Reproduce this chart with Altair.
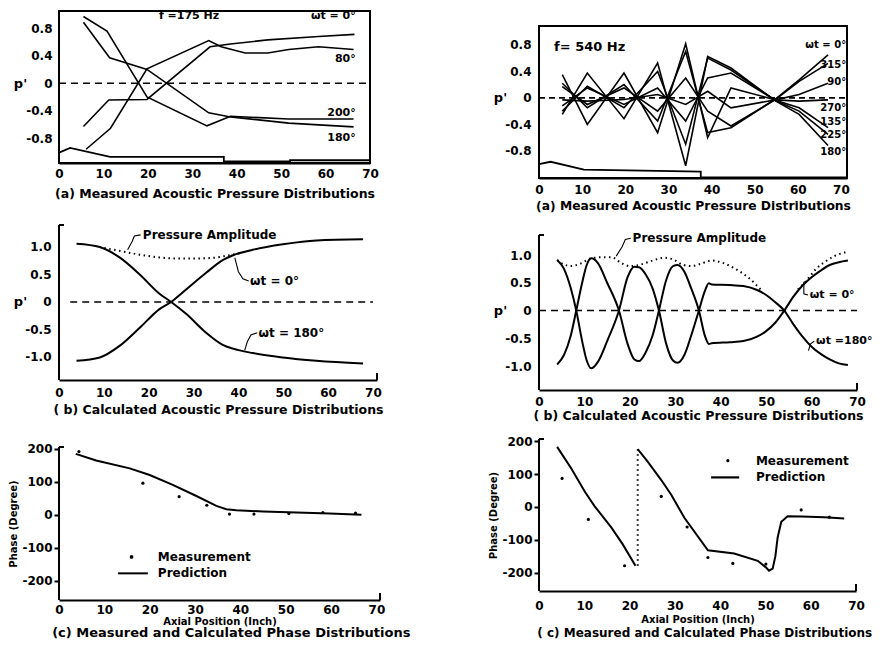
import altair as alt
import pandas as pd

FONT = "DejaVu Sans"
INK = "black"

# ---------------- (a) left : f = 175 Hz, measured
LA_X_0 = [5.5, 11.2, 19.8, 34.0, 38.6, 47.0, 58.4, 66.5]
LA_Y_0 = [-0.63, -0.245, -0.236, 0.53, 0.57, 0.63, 0.68, 0.71]
LA_X_80 = [6.1, 11.6, 19.8, 33.7, 36.5, 41.9, 47.0, 51.7, 58.4, 66.3]
LA_Y_80 = [-0.96, -0.655, 0.21, 0.62, 0.53, 0.44, 0.44, 0.49, 0.53, 0.49]
LA_X_180 = [5.5, 11.4, 19.8, 33.7, 38.6, 51.7, 66.3]
LA_Y_180 = [0.887, 0.37, 0.2, -0.43, -0.49, -0.58, -0.635]
LA_X_200 = [5.5, 10.8, 19.8, 33.3, 38.6, 51.7, 66.3]
LA_Y_200 = [0.97, 0.757, -0.2, -0.62, -0.48, -0.52, -0.52]
LA_WALL_X = [0, 2.5, 11.5, 37.1, 37.1, 52.0, 52.0, 70.0]
LA_WALL_Y = [-1.01, -0.94, -1.07, -1.07, -1.135, -1.135, -1.12, -1.12]
LA_LABELS = ["ωt = 0°", "80°", "200°", "180°"]
LA_LABEL_X = [66.8, 66.8, 66.8, 66.8]
LA_LABEL_Y = [0.975, 0.35, -0.43, -0.8]

# ---------------- (a) right : f = 540 Hz, measured
RA_X = [5.4, 11.2, 19.7, 27.5, 34.0, 39.1, 44.5, 54.8, 60.3, 67.0]
RA_Y_0 = [0.22, -0.15, 0.2, -0.35, 0.7, -0.525, -0.45, -0.02, 0.27, 0.65]
RA_Y_315 = [0.17, -0.1, 0.15, -0.2, 0.3, -0.2, -0.425, -0.025, 0.25, 0.52]
RA_Y_90 = [-0.03, -0.05, -0.025, 0.05, -0.1, 0.1, -0.15, -0.03, 0.05, 0.22]
RA_Y_270 = [0.35, -0.4, 0.375, -0.525, 0.815, -0.6, 0.15, -0.03, -0.05, -0.03]
RA_Y_135 = [-0.12, 0.15, -0.1, 0.15, -0.35, 0.3, 0.375, -0.035, -0.15, -0.45]
RA_Y_225 = [-0.2, 0.175, -0.15, 0.4, -0.7, 0.6, 0.42, -0.04, -0.2, -0.55]
RA_Y_180 = [-0.25, 0.375, -0.315, 0.525, -1.025, 0.625, 0.45, -0.045, -0.25, -0.72]
RA_WALL_X = [0, 2.7, 10.4, 37.5, 37.5, 71.4]
RA_WALL_Y = [-1.0, -0.965, -1.085, -1.115, -1.2, -1.2]
RA_LABELS = ["ωt = 0°", "315°", "90°", "270°", "135°", "225°", "180°"]
RA_LABEL_X = [71.2] * 7
RA_LABEL_Y = [0.8, 0.5, 0.24, -0.16, -0.36, -0.56, -0.81]

# ---------------- (b) left : calculated, 175 Hz
LB_X = [3.9, 9.1, 13.5, 18.0, 22.4, 25.0, 28.4, 32.8, 36.5, 38.8, 43.2, 49.9, 57.4, 67.8]
LB_Y_0 = [-1.07, -1.01, -0.8, -0.47, -0.13, 0.0, 0.23, 0.53, 0.76, 0.85, 0.95, 1.05, 1.12, 1.14]
LB_Y_180 = [1.06, 1.0, 0.81, 0.5, 0.15, 0.0, -0.22, -0.56, -0.78, -0.85, -0.93, -1.01, -1.07, -1.12]
LB_AMP_X = [9.0, 13.5, 18.0, 22.4, 26.0, 30.0, 34.0, 38.0, 40.5]
LB_AMP_Y = [1.0, 0.93, 0.86, 0.81, 0.79, 0.79, 0.8, 0.85, 0.89]

# ---------------- (b) right : calculated, 540 Hz
RB_X = [4.0, 5.5, 7.0, 8.2, 9.5, 10.5, 11.5, 13.0, 15.0, 17.6, 19.5, 21.0, 22.0, 23.5, 25.0,
        26.4, 28.0, 29.5, 30.5, 32.0, 33.5, 35.2, 36.5, 37.4, 38.0, 42.0, 45.0, 48.0, 50.0,
        52.0, 54.0, 56.0, 58.0, 60.0, 62.0, 64.0, 66.0, 68.0]
RB_Y_0 = [-0.97, -0.8, -0.45, 0.0, 0.5, 0.82, 0.94, 0.85, 0.5, 0.0, -0.6, -0.88, -0.91, -0.75,
          -0.45, 0.0, 0.55, 0.8, 0.82, 0.7, 0.4, 0.0, -0.45, -0.6, -0.59, -0.57, -0.55, -0.47,
          -0.37, -0.22, 0.0, 0.25, 0.45, 0.6, 0.72, 0.82, 0.87, 0.9]
RB_Y_180 = [0.91, 0.75, 0.4, 0.0, -0.55, -0.9, -1.04, -0.92, -0.55, 0.0, 0.6, 0.79, 0.78, 0.65,
            0.4, 0.0, -0.6, -0.9, -0.94, -0.8, -0.45, 0.0, 0.35, 0.49, 0.47, 0.46, 0.44, 0.37,
            0.28, 0.15, 0.0, -0.25, -0.47, -0.65, -0.78, -0.88, -0.95, -0.98]
RB_AMP1_X = [4.0, 5.5, 7.0, 9.0, 11.5, 14.0, 16.0, 18.0, 20.0, 22.0, 25.0, 27.5, 29.5, 31.5,
             33.5, 35.5, 38.0, 40.0, 43.0, 46.0, 49.0]
RB_AMP1_Y = [0.91, 0.83, 0.8, 0.84, 0.94, 0.96, 0.96, 0.86, 0.8, 0.82, 0.9, 0.95, 0.92, 0.83,
             0.8, 0.84, 0.9, 0.87, 0.76, 0.6, 0.36]
RB_AMP2_X = [57.0, 59.0, 61.0, 63.0, 65.0, 67.0, 68.0]
RB_AMP2_Y = [0.38, 0.55, 0.75, 0.88, 0.98, 1.04, 1.06]

# ---------------- (c) left : phase, 175 Hz
LC_MEAS_X = [4.4, 18.5, 26.5, 32.6, 37.6, 43.0, 50.7, 58.2, 65.4]
LC_MEAS_Y = [192, 96, 55, 29, 2, 2, 4, 7, 5]
LC_PRED_X = [3.7, 8.2, 15.6, 20.0, 25.1, 30.3, 34.7, 36.9, 39.1, 45.0, 52.4, 59.7, 66.7]
LC_PRED_Y = [185, 165, 141, 121, 91, 57, 27, 17, 14, 10, 7, 4, 0]

# ---------------- (c) right : phase, 540 Hz
RC_MEAS_X = [5.1, 10.9, 18.9, 27.0, 32.7, 37.3, 42.8, 50.1, 57.9, 64.1]
RC_MEAS_Y = [87, -38, -179, 32, -61, -154, -172, -174, -9, -31]
RC_PRED1_X = [4.0, 7.1, 10.1, 12.3, 16.0, 18.5, 21.3]
RC_PRED1_Y = [183, 118, 47, 2, -63, -114, -179]
RC_PRED2_X = [21.8, 24.0, 27.0, 29.2, 32.1, 37.3, 43.1, 48.3, 50.1, 50.8, 51.6, 52.2, 52.7,
              53.5, 54.9, 57.9, 63.0, 67.4]
RC_PRED2_Y = [176, 138, 82, 37, -33, -132, -142, -164, -184, -194, -188, -150, -93, -45, -28,
              -29, -31, -35]
RC_JUMP_X = 21.8

X_TICKS = [0, 10, 20, 30, 40, 50, 60, 70]

CAP_A = "(a) Measured Acoustic Pressure Distributions"
CAP_B = "( b) Calculated Acoustic Pressure Distributions"
CAP_C_L = "(c) Measured and Calculated Phase Distributions"
CAP_C_R = "( c) Measured and Calculated Phase Distributions"

fmt1 = "datum.value == 0 ? '0' : (datum.value < 0 ? '-' : '') + format(abs(datum.value), '.1f')"
fmt0 = "(datum.value < 0 ? '-' : '') + format(abs(datum.value), 'd')"


def long_df(names, xs_list, ys_list):
    rows = []
    for n, xs, ys in zip(names, xs_list, ys_list):
        for i, (a, b) in enumerate(zip(xs, ys)):
            rows.append({"s": n, "i": i, "x": a, "y": b})
    return pd.DataFrame(rows)


def pts(xs, ys, texts=None):
    d = {"x": xs, "y": ys}
    if texts is not None:
        d["t"] = texts
    return pd.DataFrame(d)


class Panel:
    """One sub-plot. `pad` px of empty room is kept above the drawn axes (y domain is
    extended) so the panels sit at the reference's vertical offsets."""

    def __init__(self, w, h, pad, xdom, ydom, yvals, ylab, ypad, xpad, xtitle, xtitle_size,
                 xtitle_pad, ytitle=None, p_title=False, yticks=False):
        self.w, self.h, self.pad = w, h, pad
        self.xdom, self.ydom = xdom, ydom
        span = ydom[1] - ydom[0]
        self.upp = span / h
        self.ytop = ydom[1] + pad * self.upp
        self.H = h + pad
        zero_px = pad + h * ydom[1] / span
        ykw = dict(values=yvals, labelExpr=ylab, labelPadding=ypad, labelFont=FONT,
                   labelFontSize=12, labelFontWeight="bold", labelColor=INK,
                   domain=False, grid=False)
        if yticks:
            ykw.update(ticks=True, tickSize=5, tickWidth=2, tickColor=INK)
        else:
            ykw.update(ticks=False, tickSize=0)
        if p_title:
            ykw.update(title="p'", titleAngle=0, titleAlign="center", titleBaseline="middle",
                       titleX=-39, titleY=zero_px, titleFont=FONT, titleFontSize=13,
                       titleFontWeight="bold", titleColor=INK)
        else:
            ykw.update(title=ytitle, titleFont=FONT, titleFontSize=10, titleFontWeight="bold",
                       titleColor=INK, titlePadding=3, titleY=pad + h / 2)
        xkw = dict(values=X_TICKS, format="d", labelPadding=xpad, labelFont=FONT,
                   labelFontSize=12, labelFontWeight="bold", labelColor=INK,
                   domainColor=INK, domainWidth=2, grid=False, ticks=False, tickSize=0,
                   labelFlush=False, title=xtitle, titleFont=FONT, titleFontSize=xtitle_size,
                   titleFontWeight="bold", titleColor=INK, titlePadding=xtitle_pad)
        self.X = alt.X("x:Q", scale=alt.Scale(domain=xdom, nice=False, zero=False),
                       axis=alt.Axis(**xkw))
        self.Y = alt.Y("y:Q", scale=alt.Scale(domain=[ydom[0], self.ytop], nice=False,
                                              zero=False), axis=alt.Axis(**ykw))

    def below(self, px):
        return self.ydom[0] - px * self.upp

    def line(self, df, width=1.6, dash=None, interp="linear"):
        kw = dict(color=INK, strokeWidth=width, interpolate=interp, clip=False)
        if dash:
            kw["strokeDash"] = dash
        m = alt.Chart(df).mark_line(**kw)
        if "s" in df.columns:
            return m.encode(x=self.X, y=self.Y, detail="s:N", order="i:Q")
        return m.encode(x=self.X, y=self.Y)

    def text(self, df, size=11, align="left"):
        return alt.Chart(df).mark_text(font=FONT, fontSize=size, fontWeight="bold", color=INK,
                                       align=align, baseline="middle").encode(
            x=self.X, y=self.Y, text="t:N")

    def dots(self, df, size=10):
        return alt.Chart(df).mark_point(filled=True, size=size, color=INK, opacity=1).encode(
            x=self.X, y=self.Y)

    def box(self):
        x0, x1 = self.xdom
        y0, y1 = self.ydom
        df = pd.DataFrame({"x": [x0], "x2": [x1], "y": [y0], "y2": [y1]})
        return alt.Chart(df).mark_rect(filled=False, stroke=INK, strokeWidth=2).encode(
            x=self.X, x2="x2:Q", y=self.Y, y2="y2:Q")

    def ell(self, x_end):
        """Left axis line with its little top tick, and the upward tick at the x end."""
        x0 = self.xdom[0]
        y0, y1 = self.ydom
        xu = (self.xdom[1] - self.xdom[0]) / self.w
        df = pd.DataFrame({"x": [x0, x0, x_end], "x2": [x0, x0 + 5 * xu, x_end],
                           "y": [y0, y1, y0], "y2": [y1, y1, y0 + 7 * self.upp]})
        return alt.Chart(df).mark_rule(color=INK, strokeWidth=2).encode(
            x=self.X, x2="x2:Q", y=self.Y, y2="y2:Q")

    def done(self, *layers):
        return alt.layer(*layers).properties(
            width=self.w, height=self.H,
            view=alt.ViewBackground(fill="white", stroke="white", strokeWidth=0, strokeOpacity=0))


# ================= left (a)
P = Panel(311, 152, 0, [0, 70], [-1.16, 1.05], [-0.8, -0.4, 0, 0.4, 0.8], fmt1, 7, 5,
          CAP_A, 12.5, 8, p_title=True)
la = P.done(
    P.box(),
    P.line(pts([0, 70], [0, 0]), 1.6, [7, 5]),
    P.line(long_df(["0", "80", "180", "200"], [LA_X_0, LA_X_80, LA_X_180, LA_X_200],
                   [LA_Y_0, LA_Y_80, LA_Y_180, LA_Y_200]), 1.6),
    P.line(pts(LA_WALL_X, LA_WALL_Y), 1.8),
    P.text(pts(LA_LABEL_X, LA_LABEL_Y, LA_LABELS), 11, "right"),
    P.text(pts([22.5], [0.975], ["f =175 Hz"]), 11),
)

# ================= left (b)
P = Panel(318, 155, 20, [0, 70.9], [-1.42, 1.40], [-1.0, -0.5, 0, 0.5, 1.0], fmt1, 8, 7,
          CAP_B, 12.5, 5, p_title=True)
lb = P.done(
    P.ell(70.9),
    P.line(pts([2.5, 70], [0, 0]), 1.6, [7, 5]),
    P.line(long_df(["0", "180"], [LB_X, LB_X], [LB_Y_0, LB_Y_180]), 2, interp="monotone"),
    P.line(pts(LB_AMP_X, LB_AMP_Y), 2, [1.5, 3.5], "monotone"),
    P.line(long_df(["a", "b", "c"],
                   [[18.2, 16.8, 16.3, 15.3], [42.3, 41.0, 40.0, 39.2], [44.2, 42.8, 42.0, 41.4]],
                   [[1.22, 1.2, 1.1, 0.95], [0.38, 0.42, 0.55, 0.8], [-0.56, -0.6, -0.72, -0.88]]),
           1.1),
    P.text(pts([18.7, 42.6, 44.5], [1.22, 0.38, -0.56],
               ["Pressure Amplitude", "ωt = 0°", "ωt = 180°"]), 12),
)

# ================= left (c)
P = Panel(321, 153, 26, [0, 70.8], [-259, 206], [-200, -100, 0, 100, 200], fmt0, 2, 4,
          "Axial Position (Inch)", 10, 1, ytitle="Phase (Degree)", yticks=True)
lc = P.done(
    P.ell(70.8),
    P.line(pts(LC_PRED_X, LC_PRED_Y), 2),
    P.dots(pts(LC_MEAS_X, LC_MEAS_Y)),
    P.dots(pts([16.0], [-128]), 14),
    P.line(pts([13.0, 19.6], [-178, -178]), 2),
    P.text(pts([21.8, 21.8], [-128, -178], ["Measurement", "Prediction"]), 12),
    P.text(pts([38.0], [P.below(33)], [CAP_C_L]), 13, "center"),
)

# ================= right (a)
P = Panel(308, 152, 15, [0, 71.4], [-1.21, 1.085], [-0.8, -0.4, 0, 0.4, 0.8], fmt1, 8, 6,
          CAP_A, 12.3, 4, p_title=True)
ra = P.done(
    P.box(),
    P.line(pts([0, 71.4], [0, 0]), 1.6, [6, 4]),
    P.line(long_df(["0", "315", "90", "270", "135", "225", "180"], [RA_X] * 7,
                   [RA_Y_0, RA_Y_315, RA_Y_90, RA_Y_270, RA_Y_135, RA_Y_225, RA_Y_180]), 1.6),
    P.line(pts(RA_WALL_X, RA_WALL_Y), 1.8),
    P.text(pts(RA_LABEL_X, RA_LABEL_Y, RA_LABELS), 10, "right"),
    P.text(pts([3.5], [0.77], ["f= 540 Hz"]), 13),
)

# ================= right (b)
P = Panel(318, 155, 18, [0, 70], [-1.43, 1.36], [-1.0, -0.5, 0, 0.5, 1.0], fmt1, 8, 6,
          CAP_B, 12.5, 2, p_title=True)
rb = P.done(
    P.ell(70),
    P.line(pts([0, 70], [0, 0]), 1.6, [7, 5]),
    P.line(long_df(["0", "180"], [RB_X, RB_X], [RB_Y_0, RB_Y_180]), 2, interp="monotone"),
    P.line(long_df(["p", "q"], [RB_AMP1_X, RB_AMP2_X], [RB_AMP1_Y, RB_AMP2_Y]), 2,
           [1.5, 3.5], "monotone"),
    P.line(long_df(["a", "b", "c"],
                   [[20.2, 19.0, 18.3, 17.0], [58.3, 58.3, 59.2], [60.6, 59.8, 59.3]],
                   [[1.3, 1.28, 1.15, 0.98], [0.52, 0.3, 0.28], [-0.55, -0.6, -0.72]]), 1.1),
    P.text(pts([20.6], [1.3], ["Pressure  Amplitude"]), 12),
    P.text(pts([59.6, 61.0], [0.28, -0.55], ["ωt = 0°", "ωt =180°"]), 11),
)

# ================= right (c)
P = Panel(317, 152, 12, [0, 70], [-256, 207], [-200, -100, 0, 100, 200], fmt0, 2, 9,
          "Axial Position (Inch)", 10, 3, ytitle="Phase (Degree)", yticks=True)
rc = P.done(
    P.ell(70),
    P.line(long_df(["p", "q"], [RC_PRED1_X, RC_PRED2_X], [RC_PRED1_Y, RC_PRED2_Y]), 2),
    alt.Chart(pd.DataFrame({"x": [RC_JUMP_X], "y": [-179], "y2": [176]}))
    .mark_rule(color=INK, strokeWidth=2, strokeDash=[1.5, 3.5]).encode(x=P.X, y=P.Y, y2="y2:Q"),
    P.dots(pts(RC_MEAS_X, RC_MEAS_Y)),
    P.dots(pts([41.7], [141])),
    P.line(pts([38.0, 44.2], [90, 90]), 2.2),
    P.text(pts([47.9, 47.9], [141, 90], ["Measurement", "Prediction"]), 12),
    P.text(pts([36.6], [P.below(42)], [CAP_C_R]), 12, "center"),
)

left = alt.vconcat(la, lb, lc, spacing=5)
right = alt.vconcat(ra, rb, rc, spacing=5)
chart = alt.hconcat(left, right, spacing=77).properties(
    padding={"left": 0, "top": 2, "right": 0, "bottom": 0}
).configure_view(stroke="transparent", strokeWidth=0).configure(background="white")

chart.save("out.html", embed_options={"renderer": "svg", "actions": False})
